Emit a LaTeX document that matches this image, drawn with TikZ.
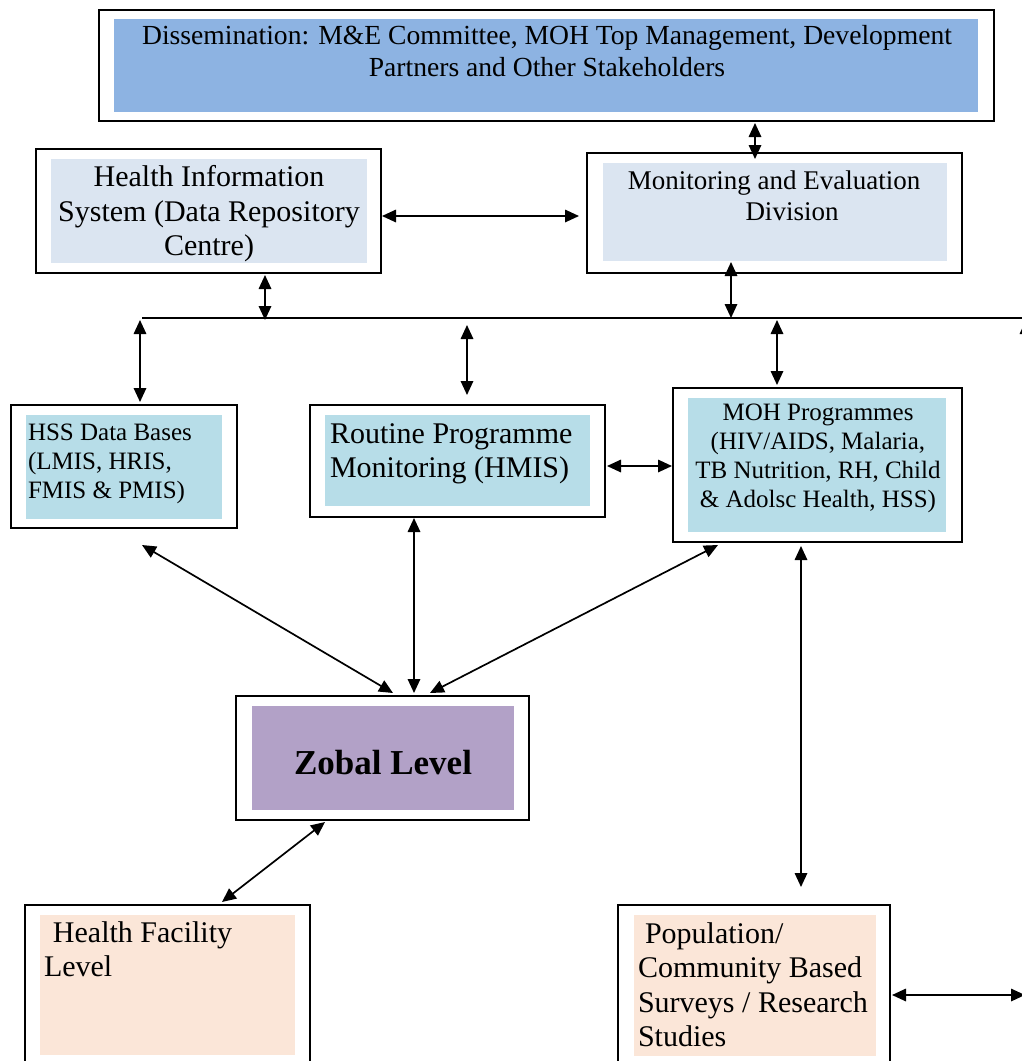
\documentclass[tikz,border=0pt]{standalone}
\usepackage{fontspec}
\setmainfont{Liberation Serif}
\usetikzlibrary{arrows.meta,calc}
\definecolor{disblue}{RGB}{141,179,226}
\definecolor{paleblue}{RGB}{219,229,241}
\definecolor{aqua}{RGB}{183,221,232}
\definecolor{lilac}{RGB}{178,161,199}
\definecolor{peach}{RGB}{251,230,216}
\begin{document}
\begin{tikzpicture}[x=1pt,y=-1pt,
  outerbox/.style={draw=black,line width=1.8pt,fill=white,inner sep=0pt,outer sep=0pt},
  innerbox/.style={inner sep=0pt,outer sep=0pt},
  txt/.style={inner sep=0pt,outer sep=0pt,text=black},
  arr/.style={{Triangle[length=14pt,width=12.5pt]}-{Triangle[length=14pt,width=12.5pt]},line width=1.7pt},
  onearr/.style={-{Triangle[length=14pt,width=12.5pt]},line width=1.7pt},
  busline/.style={line width=1.6pt}]
\useasboundingbox (0,0) rectangle (1022,1061);
\clip (0,0) rectangle (1022,1061);

% boxes
\node[outerbox,minimum width=895pt,minimum height=111pt] (dis) at (546.5,65.5) {};
\node[innerbox,fill=disblue,minimum width=864pt,minimum height=93pt] (disin) at (546,65.5) {};
\node[txt,align=center,font=\fontsize{27.6}{32}\selectfont] (distext) at (547,51.5)
  {Dissemination: M\&E Committee, MOH Top Management, Development\\Partners and Other Stakeholders};

\node[outerbox,minimum width=345pt,minimum height=124pt] (his) at (208.5,211) {};
\node[innerbox,fill=paleblue,minimum width=316pt,minimum height=104pt] (hisin) at (209,211) {};
\node[txt,align=center,font=\fontsize{30}{34.5}\selectfont] (histext) at (209,214)
  {Health Information\\System (Data Repository\\Centre)};

\node[outerbox,minimum width=375pt,minimum height=120pt] (me) at (774.5,213) {};
\node[innerbox,fill=paleblue,minimum width=344pt,minimum height=98pt] (mein) at (775,212) {};
\node[txt,align=center,font=\fontsize{27}{31}\selectfont] (metext) at (774,196)
  {Monitoring and Evaluation\\\hspace*{36pt}Division};

\node[outerbox,minimum width=226pt,minimum height=123pt] (hss) at (124,466.5) {};
\node[innerbox,fill=aqua,minimum width=196pt,minimum height=104pt] (hssin) at (124,467) {};
\node[txt,align=left,anchor=west,font=\fontsize{25}{29}\selectfont] (hsstext) at (28,464)
  {HSS Data Bases\\(LMIS, HRIS,\\FMIS \& PMIS)};

\node[outerbox,minimum width=295pt,minimum height=112pt] (rpm) at (457.5,461) {};
\node[innerbox,fill=aqua,minimum width=265pt,minimum height=91pt] (rpmin) at (457.5,460.5) {};
\node[txt,align=left,anchor=west,font=\fontsize{30}{34}\selectfont] (rpmtext) at (330,453.5)
  {Routine Programme\\Monitoring (HMIS)};

\node[outerbox,minimum width=289pt,minimum height=154pt] (moh) at (817.5,465) {};
\node[innerbox,fill=aqua,minimum width=258pt,minimum height=134pt] (mohin) at (817,465) {};
\node[txt,align=center,font=\fontsize{25}{28.8}\selectfont] (mohtext) at (818,458.5)
  {MOH Programmes\\(HIV/AIDS, Malaria,\\TB Nutrition, RH, Child\\\& Adolsc Health, HSS)};

\node[outerbox,minimum width=293pt,minimum height=124pt] (zob) at (382.5,758) {};
\node[innerbox,fill=lilac,minimum width=262pt,minimum height=104pt] (zobin) at (383,758) {};
\node[txt,font=\fontsize{35}{40}\selectfont\bfseries] (zobtext) at (383,763) {Zobal Level};

\node[outerbox,minimum width=285pt,minimum height=170pt] (hf) at (167.5,990) {};
\node[innerbox,fill=peach,minimum width=255pt,minimum height=140pt] (hfin) at (167.5,985) {};
\node[txt,align=left,anchor=west,font=\fontsize{30}{34}\selectfont] (hftext) at (44,949.5)
  {\hspace*{9pt}Health Facility\\Level};

\node[outerbox,minimum width=272pt,minimum height=170pt] (pop) at (754,990) {};
\node[innerbox,fill=peach,minimum width=242pt,minimum height=141pt] (popin) at (755,985.5) {};
\node[txt,align=left,anchor=west,font=\fontsize{30}{34.5}\selectfont] (poptext) at (638,984.5)
  {\hspace*{7pt}Population/\\Community Based\\Surveys / Research\\Studies};

% bus line
\coordinate (busL) at (142,318);
\coordinate (busR) at (1030,318);
\draw[busline] (busL) -- (busR);

% column / row helpers
\coordinate (xDM) at (755,0);
\coordinate (xHB) at (265,0);
\coordinate (xBH) at (140,0);
\coordinate (xMB) at (731,0);
\coordinate (xMO) at (777,0);
\coordinate (yRM) at (0,466);
\coordinate (yHM) at (0,216);
\coordinate (yPR) at (0,995);
\coordinate (rT) at (467,325);
\coordinate (prR) at (1025,995);
\coordinate (trB) at (1026,370);
\coordinate (trT) at (1026,320);

% connectors
\draw[arr] ($(dis.south -| xDM)+(0,2)$) -- ($(me.north -| xDM)+(0,6)$);
\draw[arr] ($(his.south -| xHB)+(0,2)$) -- ($(busL -| xHB)+(0,2)$);
\draw[arr] ($(busL -| xBH)+(0,2)$) -- ($(hss.north -| xBH)+(0,-3)$);
\draw[arr] ($(me.south -| xMB)+(0,-11)$) -- (busL -| xMB);
\draw[arr] (rT) -- ($(rpm.north -| rT)+(0,-10)$);
\draw[arr] ($(busL -| xMO)+(0,2)$) -- ($(moh.north -| xMO)+(0,-3)$);
\draw[arr] ($(rpm.east |- yRM)+(2,0)$) -- ($(moh.west |- yRM)+(-1,0)$);
\draw[arr] ($(his.east |- yHM)+(1,0)$) -- ($(me.west |- yHM)+(-8,0)$);
\draw[arr] ($(hss.south)+(18,17)$) -- ($(zob.north)+(10.5,-3)$);
\draw[arr] ($(rpm.south)+(-43.5,1)$) -- ($(zob.north)+(31.5,-3)$);
\draw[arr] ($(moh.south)+(-99.5,3)$) -- ($(zob.north)+(47.5,-3)$);
\draw[arr] ($(zob.south)+(-57.5,2)$) -- ($(hf.north)+(54.5,-3)$);
\draw[arr] ($(moh.south)+(-16.5,4)$) -- ($(pop.north)+(47,-18)$);
\draw[arr] ($(pop.east |- yPR)+(2,0)$) -- (prR);
\draw[onearr] (trB) -- (trT);
\end{tikzpicture}
\end{document}
